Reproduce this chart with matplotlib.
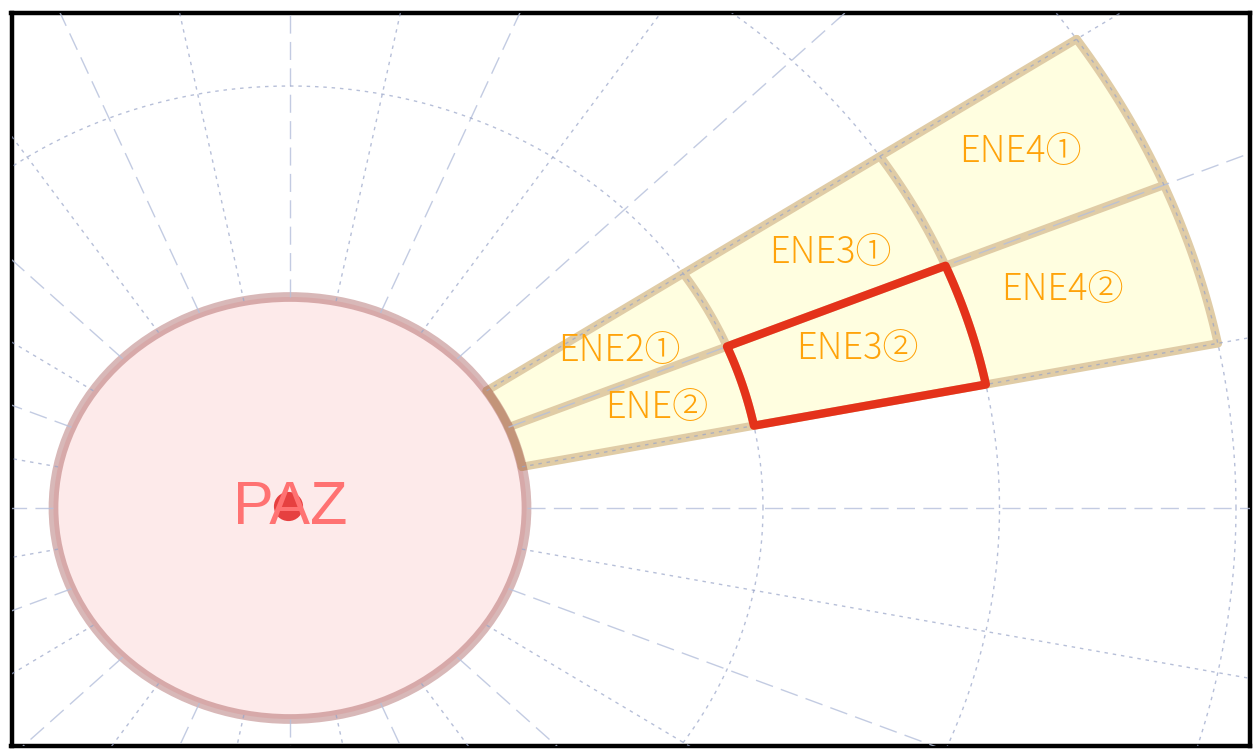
import numpy as np
import matplotlib
matplotlib.use("Agg")
import matplotlib.pyplot as plt
from matplotlib.patches import Circle, Polygon

# ---- data (km, angles in degrees counter-clockwise from east) ----
paz_label = "PAZ"
paz_radius_km = 5
ring_edges_km = [5, 10, 15, 20]
sector_edges_deg = [11.25, 22.5, 33.75]          # ENE sector, split in two halves
upper_labels = ["ENE2①", "ENE3①", "ENE4①"]       # 22.5 .. 33.75
lower_labels = ["ENE②", "ENE3②", "ENE4②"]        # 11.25 .. 22.5
highlight = "ENE3②"
grid_circles_km = [10, 15, 20, 25, 30]
grid_step_deg = 11.25

# label nudges in pixels (layout only)
label_nudge = {
    "ENE2①": (17, 8), "ENE3①": (19, 7), "ENE4①": (0, 8),
    "ENE②": (27, 8), "ENE3②": (2, 6), "ENE4②": (-20, 4),
}

# colours
GRID_LONG = "#b4bfdb"
GRID_DOT = "#98a4c8"
FILL_SECTOR = "#fffee0"
EDGE_SECTOR = "#e0cca6"
FILL_PAZ = "#fdeaea"
EDGE_PAZ = (0.50, 0.08, 0.08, 0.30)
RED = "#e4321a"
ORANGE = "#ffa30a"


def arc(r, t0, t1, n=60):
    t = np.radians(np.linspace(t0, t1, n))
    return np.column_stack([r * np.cos(t), r * np.sin(t)])


def cell(r0, r1, t0, t1):
    return np.vstack([arc(r0, t0, t1), arc(r1, t1, t0)])


fig = plt.figure(figsize=(12.54, 7.55), dpi=100)
W, H = 1254, 755
left, right, top, bottom = 11.5, 1250, 12.5, 746
ax = fig.add_axes([left / W, 1 - bottom / H, (right - left) / W, (bottom - top) / H])
cx, cy = 290, 508            # centre in pixels
sx, sy = 47.3, 42.2          # px per km
ax.set_xlim((left - cx) / sx, (right - cx) / sx)
ax.set_ylim(-(bottom - cy) / sy, (cy - top) / sy)
ax.set_aspect("auto")
ax.set_xticks([]); ax.set_yticks([])
for sp in ax.spines.values():
    sp.set_linewidth(3.2)
    sp.set_color("black")

# grid: radial lines and circles
n_dir = int(round(360 / grid_step_deg))
for k in range(n_dir):
    a = np.radians(k * grid_step_deg)
    rr = np.array([paz_radius_km, 40])
    if k % 2 == 0:
        ax.plot(rr * np.cos(a), rr * np.sin(a), color=GRID_LONG, lw=1.0,
                ls=(0, (13, 6)), zorder=4, alpha=0.8)
    else:
        ax.plot(rr * np.cos(a), rr * np.sin(a), color=GRID_DOT, lw=1.0,
                ls=(0, (2.5, 3.5)), zorder=4, alpha=0.7)
for r in grid_circles_km:
    c = arc(r, 0, 360, 720)
    ax.plot(c[:, 0], c[:, 1], color=GRID_DOT, lw=1.0, ls=(0, (2.5, 3.5)),
            zorder=4, alpha=0.7)

# sector cells
t_lo, t_mid, t_hi = sector_edges_deg
cells = {}
for i in range(len(ring_edges_km) - 1):
    r0, r1 = ring_edges_km[i], ring_edges_km[i + 1]
    cells[upper_labels[i]] = (r0, r1, t_mid, t_hi)
    cells[lower_labels[i]] = (r0, r1, t_lo, t_mid)
for name, (r0, r1, t0, t1) in cells.items():
    ax.add_patch(Polygon(cell(r0, r1, t0, t1), closed=True, facecolor=FILL_SECTOR,
                         edgecolor="none", zorder=2))

# sector edges drawn once each
edge_kw = dict(color=EDGE_SECTOR, lw=6, solid_capstyle="round", zorder=3)
for r in ring_edges_km:
    a_ = arc(r, t_lo, t_hi)
    ax.plot(a_[:, 0], a_[:, 1], **edge_kw)
for t in sector_edges_deg:
    a = np.radians(t)
    rr = np.array([ring_edges_km[0], ring_edges_km[-1]])
    ax.plot(rr * np.cos(a), rr * np.sin(a), **edge_kw)

# PAZ circle
ax.add_patch(Circle((0, 0), paz_radius_km, facecolor=FILL_PAZ, edgecolor="none", zorder=1.5))
ax.add_patch(Circle((0, 0), paz_radius_km, facecolor="none", edgecolor=EDGE_PAZ,
                    lw=7, zorder=3.5))

# highlighted cell
r0, r1, t0, t1 = cells[highlight]
ax.add_patch(Polygon(cell(r0, r1, t0, t1), closed=True, facecolor="none",
                     edgecolor=RED, lw=6, joinstyle="round", zorder=5))

# labels
for name, (r0, r1, t0, t1) in cells.items():
    rm, tm = (r0 + r1) / 2, np.radians((t0 + t1) / 2)
    dx, dy = label_nudge.get(name, (0, 0))
    ax.annotate(name, (rm * np.cos(tm), rm * np.sin(tm)),
                xytext=(dx / 1.389, dy / 1.389), textcoords="offset points",
                ha="center", va="center", color=ORANGE, fontsize=26,
                family=["Noto Sans CJK JP", "DejaVu Sans"], fontweight="light", zorder=6)

# plant marker and PAZ text
ax.plot(-0.05, 0.05, "o", ms=21, color="#e64040", mec="none", zorder=6)
ax.text(0, 0, paz_label, ha="center", va="center", color="#ff7272", fontsize=44,
        family="Liberation Sans", zorder=7)

fig.savefig("out.png", dpi=100, facecolor="white")
